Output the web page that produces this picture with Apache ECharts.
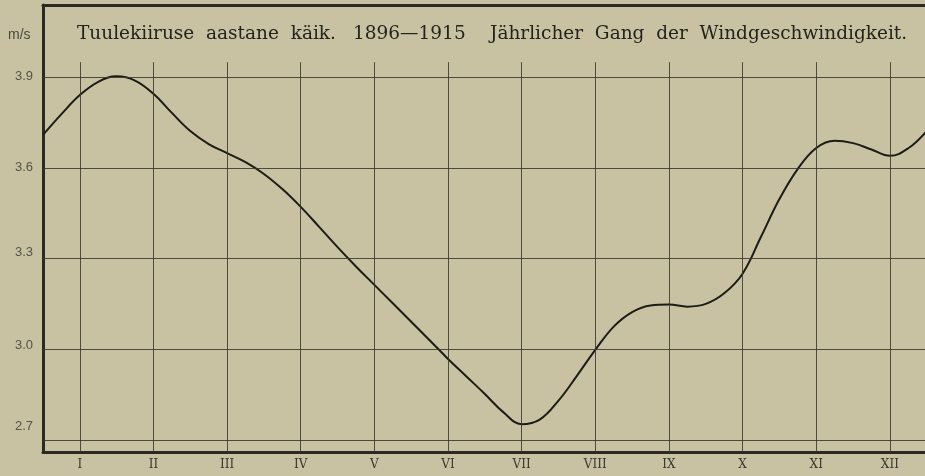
<!DOCTYPE html>
<html>
<head>
<meta charset="utf-8">
<script src="https://cdn.jsdelivr.net/npm/echarts@6/dist/echarts.min.js"></script>
<style>
  html, body { margin: 0; padding: 0; background: #c8c2a3; }
  #chart { width: 925px; height: 476px; }
</style>
</head>
<body>
<div id="chart"></div>
<script>
// months as roman numerals (tick labels)
const months = ['I', 'II', 'III', 'IV', 'V', 'VI', 'VII', 'VIII', 'IX', 'X', 'XI', 'XII'];
const monthPos = [1, 2, 3, 4, 5, 6, 7, 8, 9, 10, 11, 12];
const yTicks = [2.7, 3.0, 3.3, 3.6, 3.9];

// curve every quarter month, m/s
const curveX = [0.5, 0.75, 1.0, 1.25, 1.5, 1.75, 2.0, 2.25, 2.5, 2.75, 3.0, 3.25, 3.5, 3.75, 4.0, 4.25, 4.5, 4.75, 5.0, 5.25, 5.5, 5.75, 6.0, 6.25, 6.5, 6.75, 7.0, 7.25, 7.5, 7.75, 8.0, 8.25, 8.5, 8.75, 9.0, 9.25, 9.5, 9.75, 10.0, 10.25, 10.5, 10.75, 11.0, 11.25, 11.5, 11.75, 12.0, 12.25, 12.5];
const curveY = [3.709, 3.778, 3.841, 3.885, 3.903, 3.889, 3.845, 3.782, 3.722, 3.679, 3.649, 3.619, 3.580, 3.530, 3.471, 3.405, 3.338, 3.274, 3.213, 3.152, 3.091, 3.030, 2.968, 2.910, 2.852, 2.792, 2.752, 2.768, 2.830, 2.912, 2.998, 3.075, 3.123, 3.145, 3.148, 3.141, 3.150, 3.185, 3.250, 3.372, 3.497, 3.597, 3.666, 3.690, 3.682, 3.661, 3.640, 3.665, 3.722];

// title pieces with their left edges as printed
const titleParts = ['Tuulekiiruse  aastane  käik.', '1896—1915', 'Jährlicher  Gang  der  Windgeschwindigkeit.'];
const titleLeft = [77, 353, 490];

const yMin = 2.66;
const yMax = 4.139;
const gridTop = 3.95; // vertical rules stop under the title

const ink = '#2b2922';
// printed y labels sit a little above some of their rules
const labelLift = { '2.7': 13, '3.0': 4, '3.3': 6, '3.6': 0, '3.9': 1 };

const hLines = yTicks.map(v => ({ yAxis: v }));
const vLines = monthPos.map(m => [{ coord: [m, yMin] }, { coord: [m, gridTop] }]);

const rich = {};
Object.keys(labelLift).forEach((k, i) => {
  rich['l' + i] = {
    color: '#55534a',
    fontFamily: '"Liberation Sans Narrow", sans-serif',
    fontSize: 13,
    padding: [0, 0, labelLift[k] * 2, 0]
  };
});

const chart = echarts.init(document.getElementById('chart'));
chart.setOption({
  backgroundColor: '#c8c2a3',
  animation: false,
  grid: {
    left: 43,
    right: 0,
    top: 5,
    bottom: 24
  },
  graphic: [
    {
      type: 'text',
      left: 8,
      top: 28,
      style: { text: 'm/s', fill: '#4a483e', font: '14px "Liberation Sans Narrow", sans-serif' }
    }
  ].concat(titleParts.map((t, i) => ({
    type: 'text',
    left: titleLeft[i],
    top: 25,
    style: { text: t, fill: '#24221c', font: '18.5px "DejaVu Serif", serif' }
  }))),
  xAxis: [
    {
      type: 'value',
      min: 0.5,
      max: 12.477,
      axisLine: { show: true, lineStyle: { color: ink, width: 3 } },
      axisTick: { show: false },
      splitLine: { show: false },
      axisLabel: {
        customValues: monthPos,
        formatter: v => months[Math.round(v) - 1],
        color: '#3a382f',
        fontFamily: '"DejaVu Serif", serif',
        fontSize: 12,
        margin: 7
      }
    },
    {
      // top frame line
      type: 'value',
      position: 'top',
      min: 0.5,
      max: 12.477,
      axisLine: { show: true, lineStyle: { color: ink, width: 3 } },
      axisTick: { show: false },
      axisLabel: { show: false },
      splitLine: { show: false }
    }
  ],
  yAxis: {
    type: 'value',
    min: yMin,
    max: yMax,
    axisLine: { show: true, lineStyle: { color: ink, width: 3 } },
    axisTick: { show: false },
    splitLine: { show: false },
    axisLabel: {
      customValues: yTicks,
      formatter: v => {
        const key = v.toFixed(1);
        const i = Object.keys(labelLift).indexOf(key);
        return '{l' + i + '|' + key + '}';
      },
      rich: rich,
      margin: 10
    }
  },
  series: [
    {
      type: 'line',
      data: curveX.map((x, i) => [x, curveY[i]]),
      smooth: 0.4,
      showSymbol: false,
      lineStyle: { color: '#1c1b16', width: 2 },
      markLine: {
        silent: true,
        symbol: ['none', 'none'],
        label: { show: false },
        lineStyle: { color: '#38362d', width: 1, type: 'solid', opacity: 0.85 },
        data: hLines.concat(vLines)
      },
      z: 3
    }
  ]
});
</script>
</body>
</html>
